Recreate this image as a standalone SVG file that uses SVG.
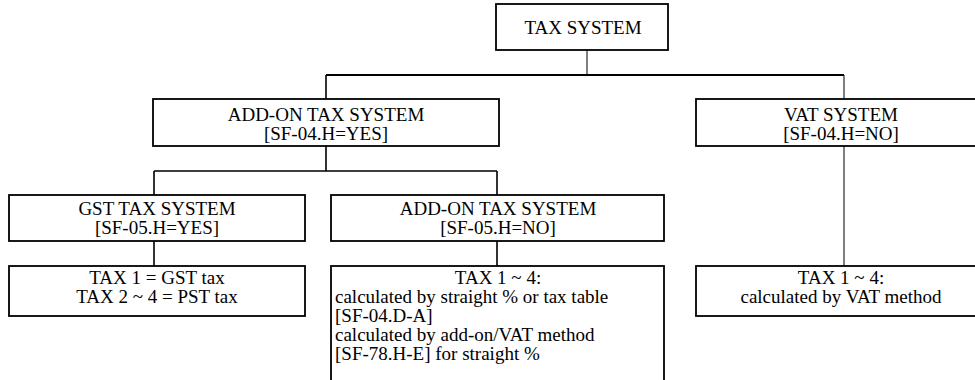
<svg xmlns="http://www.w3.org/2000/svg" width="975" height="380" viewBox="0 0 975 380">
  <style>
    .box { fill: #ffffff; stroke: #000000; stroke-width: 1.8; }
    .wire { fill: none; stroke: #000000; stroke-width: 1.6; }
    .bus { fill: none; stroke: #000000; stroke-width: 2.2; }
    .thin { fill: none; stroke: #000000; stroke-width: 1; }
    text { font-family: "Liberation Serif", "Times New Roman", serif; font-size: 19px; fill: #000000; }
    .c { text-anchor: middle; }
  </style>

  <!-- connectors -->
  <g id="connectors">
    <path class="thin" d="M587 50 V75"/>
    <path class="bus" d="M326 75 H844"/>
    <path class="wire" d="M326 75 V99"/>
    <path class="thin" d="M844 75 V99"/>
    <path class="wire" d="M326 146 V171 M154 171 H497 M154 171 V195 M497 171 V195"/>
    <path class="wire" d="M154 241 V266 M497 241 V266"/>
    <path class="thin" d="M844 146 V266"/>
  </g>

  <!-- top level -->
  <g id="tax-system">
    <rect class="box" x="496" y="4" width="172" height="46"/>
    <text class="c" x="583" y="34">TAX SYSTEM</text>
  </g>

  <!-- second level -->
  <g id="addon-system">
    <rect class="box" x="153" y="99" width="346" height="47"/>
    <text class="c" x="326" y="121">ADD-ON TAX SYSTEM</text>
    <text class="c" x="326" y="140">[SF-04.H=YES]</text>
  </g>
  <g id="vat-system">
    <rect class="box" x="696" y="99" width="292" height="47"/>
    <text class="c" x="841" y="121">VAT SYSTEM</text>
    <text class="c" x="841" y="140">[SF-04.H=NO]</text>
  </g>

  <!-- third level -->
  <g id="gst-system">
    <rect class="box" x="9" y="195" width="296" height="46"/>
    <text class="c" x="157" y="215">GST TAX SYSTEM</text>
    <text class="c" x="157" y="234">[SF-05.H=YES]</text>
  </g>
  <g id="addon-no-system">
    <rect class="box" x="331" y="195" width="333" height="46"/>
    <text class="c" x="498" y="215">ADD-ON TAX SYSTEM</text>
    <text class="c" x="498" y="234">[SF-05.H=NO]</text>
  </g>

  <!-- bottom level -->
  <g id="gst-taxes">
    <rect class="box" x="9" y="266" width="296" height="50"/>
    <text class="c" x="157" y="284">TAX 1 = GST tax</text>
    <text class="c" x="157" y="303">TAX 2 ~ 4 = PST tax</text>
  </g>
  <g id="addon-taxes">
    <rect class="box" x="331" y="266" width="333" height="120"/>
    <text class="c" x="498" y="284">TAX 1 ~ 4:</text>
    <text x="335" y="303">calculated by straight % or tax table</text>
    <text x="335" y="322">[SF-04.D-A]</text>
    <text x="335" y="341">calculated by add-on/VAT method</text>
    <text x="335" y="360">[SF-78.H-E] for straight %</text>
  </g>
  <g id="vat-taxes">
    <rect class="box" x="696" y="266" width="292" height="50"/>
    <text class="c" x="841" y="284">TAX 1 ~ 4:</text>
    <text class="c" x="841" y="303">calculated by VAT method</text>
  </g>
</svg>
